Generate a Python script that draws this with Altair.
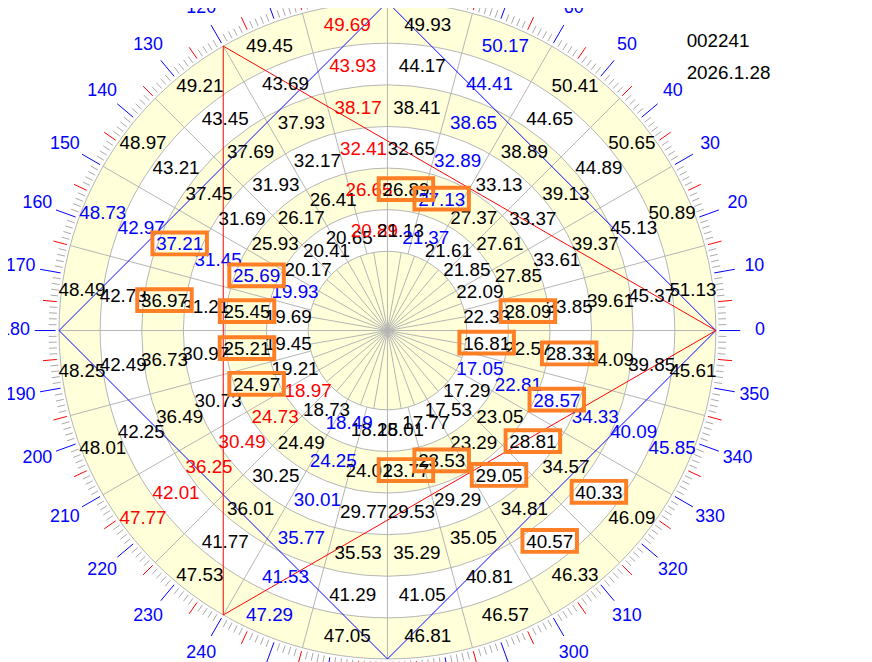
import math
import altair as alt
import pandas as pd

# ---- values read from the wheel (each ring listed clockwise, starting just below 0 deg) ----
ring1 = [16.81, 17.05, 17.29, 17.53, 17.77, 18.01, 18.25, 18.49, 18.73, 18.97, 19.21, 19.45,
         19.69, 19.93, 20.17, 20.41, 20.65, 20.89, 21.13, 21.37, 21.61, 21.85, 22.09, 22.33]
ring2 = [22.57, 22.81, 23.05, 23.29, 23.53, 23.77, 24.01, 24.25, 24.49, 24.73, 24.97, 25.21,
         25.45, 25.69, 25.93, 26.17, 26.41, 26.65, 26.89, 27.13, 27.37, 27.61, 27.85, 28.09]
ring3 = [28.33, 28.57, 28.81, 29.05, 29.29, 29.53, 29.77, 30.01, 30.25, 30.49, 30.73, 30.97,
         31.21, 31.45, 31.69, 31.93, 32.17, 32.41, 32.65, 32.89, 33.13, 33.37, 33.61, 33.85]
ring4 = [34.09, 34.33, 34.57, 34.81, 35.05, 35.29, 35.53, 35.77, 36.01, 36.25, 36.49, 36.73,
         36.97, 37.21, 37.45, 37.69, 37.93, 38.17, 38.41, 38.65, 38.89, 39.13, 39.37, 39.61]
ring5 = [39.85, 40.09, 40.33, 40.57, 40.81, 41.05, 41.29, 41.53, 41.77, 42.01, 42.25, 42.49,
         42.73, 42.97, 43.21, 43.45, 43.69, 43.93, 44.17, 44.41, 44.65, 44.89, 45.13, 45.37]
ring6 = [45.61, 45.85, 46.09, 46.33, 46.57, 46.81, 47.05, 47.29, 47.53, 47.77, 48.01, 48.25,
         48.49, 48.73, 48.97, 49.21, 49.45, 49.69, 49.93, 50.17, 50.41, 50.65, 50.89, 51.13]

red_values = [20.89, 26.65, 32.41, 38.17, 43.93, 49.69,
              18.97, 24.73, 30.49, 36.25, 42.01, 47.77]
blue_values = [21.37, 27.13, 32.89, 38.65, 44.41, 50.17,
               19.93, 25.69, 31.45, 37.21, 42.97, 48.73,
               17.05, 22.81, 28.57, 34.33, 40.09, 45.85,
               18.49, 24.25, 30.01, 35.77, 41.53, 47.29]
boxed_values = [16.81, 23.53, 23.77, 24.97, 25.21, 25.45, 25.69, 26.89, 27.13,
                28.09, 28.33, 28.57, 28.81, 29.05, 36.97, 37.21, 40.33, 40.57]

square_vertices = [0, 90, 180, 270]      # blue square
triangle_vertices = [0, 120, 240]        # red triangle
angle_labels = list(range(0, 360, 10))

code_label = "002241"
date_label = "2026.1.28"

# ---- geometry (chart structure) ----
R_OUT = 331.5
INNER = 80.0
BAND = 42.0
edges = [INNER + BAND * i for i in range(6)] + [R_OUT]

xs = alt.Scale(domain=[-383, 481], nice=False, zero=False)
ys = alt.Scale(domain=[-331.5, 322.5], nice=False, zero=False)


def X(f="x"):
    return alt.X(f + ":Q", scale=xs, axis=None)


def Y(f="y"):
    return alt.Y(f + ":Q", scale=ys, axis=None)


def pol(r, deg):
    a = math.radians(deg)
    return r * math.cos(a), r * math.sin(a)


rings = [ring1, ring2, ring3, ring4, ring5, ring6]

# numbers
rows = []
for k, ring in enumerate(rings):
    r = INNER + BAND * k + BAND / 2
    for j, v in enumerate(ring):
        deg = -7.5 - 15 * j
        x, y = pol(r, deg)
        if v in blue_values:
            c = "#0000ff"
        elif v in red_values:
            c = "#ff0000"
        else:
            c = "#000000"
        rows.append({"x": x, "y": y, "t": f"{v:.2f}", "c": c, "boxed": v in boxed_values})
nums = pd.DataFrame(rows)

# bands
yellow = pd.DataFrame({"cx": [0] * 4, "cy": [0] * 4,
                       "r0": [0, edges[1], edges[3], edges[5]],
                       "r1": [edges[0], edges[2], edges[4], edges[6]]})
circles = pd.DataFrame({"cx": [0] * len(edges), "cy": [0] * len(edges),
                        "r0": [0] * len(edges), "r1": edges})

# spokes
spk = []
for a in range(0, 360, 10):
    x2, y2 = pol(INNER, a)
    spk.append({"x": 0, "y": 0, "x2": x2, "y2": y2})
for a in range(0, 360, 15):
    x1, y1 = pol(INNER, a)
    x2, y2 = pol(R_OUT, a)
    spk.append({"x": x1, "y": y1, "x2": x2, "y2": y2})
spokes = pd.DataFrame(spk)

# ticks
tk = []
for a in range(360):
    if a % 10 == 0:
        r0, r1, c = 335, 356, "#0000ff"
    elif a % 5 == 0:
        r0, r1, c = 335, 349, "#ff0000"
    else:
        r0, r1, c = 334, 342, "#a8a8a8"
    x1, y1 = pol(r0, a)
    x2, y2 = pol(r1, a)
    tk.append({"x": x1, "y": y1, "x2": x2, "y2": y2, "c": c})
ticks = pd.DataFrame(tk)

# polygons
pg = []
for verts, c in [(square_vertices, "#0000ff"), (triangle_vertices, "#ff0000")]:
    for i in range(len(verts)):
        x1, y1 = pol(R_OUT, verts[i])
        x2, y2 = pol(R_OUT, verts[(i + 1) % len(verts)])
        pg.append({"x": x1, "y": y1, "x2": x2, "y2": y2, "c": c})
polys = pd.DataFrame(pg)

# angle labels
lab = []
for a in angle_labels:
    x, y = pol(376, a)
    lab.append({"x": x, "y": y, "t": str(a)})
labels = pd.DataFrame(lab)

FONT = "Liberation Sans"

band_layer = alt.Chart(yellow).mark_arc(theta=0, theta2=2 * math.pi, color="#ffffd9", strokeWidth=0).encode(
    x=X("cx"), y=Y("cy"),
    radius=alt.Radius("r1:Q", scale=None), radius2=alt.Radius2("r0:Q"))

circle_layer = alt.Chart(circles).mark_arc(theta=0, theta2=2 * math.pi, fillOpacity=0,
                                           stroke="#b4b4b4", strokeWidth=1).encode(
    x=X("cx"), y=Y("cy"),
    radius=alt.Radius("r1:Q", scale=None), radius2=alt.Radius2("r0:Q"))

spoke_layer = alt.Chart(spokes).mark_rule(color="#b4b4b4", strokeWidth=1).encode(
    x=X(), y=Y(), x2="x2:Q", y2="y2:Q")

tick_layer = alt.Chart(ticks).mark_rule(strokeWidth=1).encode(
    x=X(), y=Y(), x2="x2:Q", y2="y2:Q", color=alt.Color("c:N", scale=None))

poly_layer = alt.Chart(polys).mark_rule(strokeWidth=1).encode(
    x=X(), y=Y(), x2="x2:Q", y2="y2:Q", color=alt.Color("c:N", scale=None))

num_layer = alt.Chart(nums).mark_text(font=FONT, fontSize=19, align="center", baseline="middle").encode(
    x=X(), y=Y(), text="t:N", color=alt.Color("c:N", scale=None))

box_layer = alt.Chart(nums[nums["boxed"]]).mark_point(
    shape="M-1,-0.4H1V0.4H-1Z", size=3025, filled=False, stroke="#ff7f27", strokeWidth=4,
    opacity=1, yOffset=-1).encode(x=X(), y=Y())

label_layer = alt.Chart(labels).mark_text(font=FONT, fontSize=18, align="center", baseline="middle",
                                          color="#0000ff").encode(x=X(), y=Y(), text="t:N")

ann1 = alt.Chart(pd.DataFrame({"t": [code_label]})).mark_text(
    font=FONT, fontSize=19, align="left", baseline="middle", color="#000000").encode(
    x=alt.value(685), y=alt.value(30), text="t:N")
ann2 = alt.Chart(pd.DataFrame({"t": [date_label]})).mark_text(
    font=FONT, fontSize=19, align="left", baseline="middle", color="#000000").encode(
    x=alt.value(685), y=alt.value(63), text="t:N")

chart = alt.layer(band_layer, circle_layer, spoke_layer, tick_layer, poly_layer,
                  num_layer, box_layer, label_layer, ann1, ann2).properties(
    width=864, height=654, padding=0, autosize=alt.AutoSizeParams(type="none")
).configure_view(stroke=None)

chart.save("out.html", embed_options={"renderer": "svg", "actions": False})
